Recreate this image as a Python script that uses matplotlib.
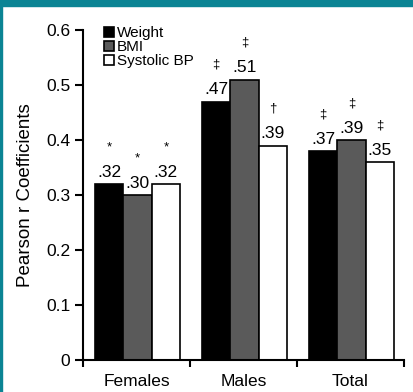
import matplotlib.pyplot as plt
import numpy as np
from matplotlib.patches import Rectangle

plt.rcParams['font.family'] = ['Liberation Sans', 'DejaVu Sans']

groups = ["Females", "Males", "Total"]
series = ["Weight", "BMI", "Systolic BP"]
colors = ["#000000", "#5a5a5a", "#ffffff"]

# bar heights as drawn, and the printed labels
heights = [
    [0.32, 0.47, 0.38],   # Weight
    [0.30, 0.51, 0.40],   # BMI
    [0.32, 0.39, 0.36],   # Systolic BP
]
labels = [
    [".32", ".47", ".37"],
    [".30", ".51", ".39"],
    [".32", ".39", ".35"],
]
marks = [
    ["*", "\u2021", "\u2021"],
    ["*", "\u2021", "\u2021"],
    ["*", "\u2020", "\u2021"],
]

fig = plt.figure(figsize=(4.14, 3.92), dpi=100)
ax = fig.add_axes([83 / 414, 32 / 392, 321 / 414, 330 / 392])

# teal frame strips
fig.patches.append(Rectangle((0, 1 - 6 / 392), 1, 6 / 392, transform=fig.transFigure,
                             color="#0b8494", zorder=0))
fig.patches.append(Rectangle((0, 0), 2 / 414, 1, transform=fig.transFigure,
                             color="#0b8494", zorder=0))

x = np.arange(len(groups)) + 0.51
w = 0.265
for i, name in enumerate(series):
    pos = x + (i - 1) * w
    ax.bar(pos, heights[i], w, color=colors[i], edgecolor="black",
           linewidth=1.2, label=name)
    for j in range(len(groups)):
        ax.text(pos[j], heights[i][j] + 0.008, labels[i][j], ha="center",
                va="bottom", fontsize=12.5)
        ax.text(pos[j], heights[i][j] + 0.056, marks[i][j], ha="center",
                va="bottom", fontsize=9.5)

ax.set_xlim(0, 3)
ax.set_ylim(0, 0.6)
ax.set_yticks([0, 0.1, 0.2, 0.3, 0.4, 0.5, 0.6])
ax.set_yticklabels(["0", "0.1", "0.2", "0.3", "0.4", "0.5", "0.6"])
ax.set_xticks([0.5, 1.5, 2.5])
ax.set_xticklabels(groups)
ax.set_xticks([0, 1, 2, 3], minor=True)
ax.tick_params(axis="x", which="major", length=0, labelsize=12.5, pad=10)
ax.tick_params(axis="x", which="minor", length=5, width=1.5)
ax.tick_params(axis="y", length=6, width=1.5, labelsize=12.5, pad=3)
for s in ["top", "right"]:
    ax.spines[s].set_visible(False)
for s in ["left", "bottom"]:
    ax.spines[s].set_linewidth(1.5)

ax.set_ylabel("Pearson r Coefficients", fontsize=13.5, labelpad=9)

ax.legend(loc="upper left", bbox_to_anchor=(0.045, 1.03), frameon=False,
          fontsize=11, handlelength=0.7, handleheight=0.7, handletextpad=0.15,
          labelspacing=0.0, borderaxespad=0)

fig.savefig("out.png", dpi=100)
